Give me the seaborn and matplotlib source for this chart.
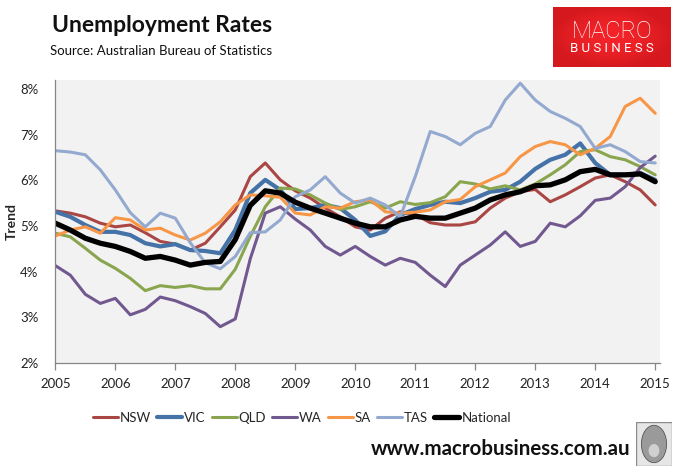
import numpy as np
import pandas as pd
import matplotlib
matplotlib.use("Agg")
import matplotlib.pyplot as plt
import seaborn as sns
from matplotlib.patches import Rectangle, Ellipse
from matplotlib.ticker import FuncFormatter

# quarterly trend readings, Jan 2005 .. Jan 2015 (percent)
quarters = np.arange(2005, 2015.01, 0.25)

nsw = [5.33, 5.28, 5.20, 5.06, 4.98, 5.02, 4.85, 4.66, 4.60, 4.47, 4.62, 4.98, 5.35,
       6.08, 6.38, 6.01, 5.77, 5.61, 5.39, 5.20, 4.98, 4.91, 5.17, 5.31, 5.25, 5.07,
       5.02, 5.02, 5.09, 5.39, 5.61, 5.75, 5.80, 5.53, 5.68, 5.86, 6.05, 6.12, 5.97,
       5.79, 5.46]
vic = [5.31, 5.20, 5.02, 4.87, 4.87, 4.80, 4.62, 4.55, 4.60, 4.47, 4.45, 4.40, 4.91,
       5.72, 6.01, 5.79, 5.37, 5.39, 5.46, 5.39, 5.13, 4.78, 4.88, 5.24, 5.37, 5.46,
       5.53, 5.50, 5.61, 5.75, 5.79, 5.97, 6.25, 6.45, 6.56, 6.81, 6.38, 6.12, 6.12,
       6.16, 6.01]
qld = [4.84, 4.76, 4.51, 4.25, 4.07, 3.85, 3.58, 3.69, 3.65, 3.69, 3.62, 3.62, 4.05,
       4.77, 5.42, 5.83, 5.81, 5.68, 5.50, 5.36, 5.42, 5.53, 5.39, 5.53, 5.47, 5.51,
       5.64, 5.97, 5.92, 5.81, 5.88, 5.79, 5.92, 6.12, 6.34, 6.63, 6.67, 6.52, 6.45,
       6.30, 6.12]
wa = [4.13, 3.92, 3.50, 3.30, 3.41, 3.05, 3.17, 3.44, 3.36, 3.23, 3.08, 2.79, 2.96,
      4.28, 5.28, 5.42, 5.15, 4.91, 4.55, 4.36, 4.55, 4.33, 4.14, 4.29, 4.20, 3.92,
      3.67, 4.14, 4.36, 4.58, 4.87, 4.55, 4.66, 5.06, 4.98, 5.22, 5.56, 5.61, 5.86,
      6.28, 6.53]
sa = [4.78, 4.91, 4.98, 4.84, 5.18, 5.13, 4.91, 4.95, 4.80, 4.69, 4.84, 5.09, 5.46,
      5.68, 5.66, 5.63, 5.28, 5.24, 5.42, 5.39, 5.53, 5.57, 5.31, 5.28, 5.30, 5.35,
      5.53, 5.58, 5.86, 6.01, 6.16, 6.52, 6.74, 6.85, 6.78, 6.56, 6.70, 6.96, 7.62,
      7.80, 7.47]
tas = [6.65, 6.62, 6.56, 6.23, 5.79, 5.29, 4.98, 5.28, 5.17, 4.63, 4.19, 4.06, 4.33,
       4.85, 4.87, 5.13, 5.64, 5.79, 6.08, 5.72, 5.50, 5.61, 5.46, 5.20, 6.08, 7.07,
       6.96, 6.78, 7.03, 7.18, 7.76, 8.13, 7.76, 7.51, 7.36, 7.18, 6.70, 6.78, 6.63,
       6.41, 6.38]
national = [5.06, 4.91, 4.73, 4.62, 4.55, 4.44, 4.29, 4.33, 4.25, 4.14, 4.20, 4.22, 4.70,
            5.45, 5.77, 5.72, 5.52, 5.39, 5.28, 5.17, 5.06, 4.98, 4.98, 5.13, 5.21, 5.17,
            5.17, 5.28, 5.39, 5.57, 5.68, 5.75, 5.88, 5.90, 6.01, 6.19, 6.24, 6.12, 6.12,
            6.14, 5.97]

states = ["NSW", "VIC", "QLD", "WA", "SA", "TAS", "National"]
series = [nsw, vic, qld, wa, sa, tas, national]
colors = {"NSW": "#AA4643", "VIC": "#4572A7", "QLD": "#89A54E", "WA": "#71588F",
          "SA": "#F79646", "TAS": "#93A9CF", "National": "#000000"}
widths = {"NSW": 2.2, "VIC": 3.0, "QLD": 2.2, "WA": 2.2, "SA": 2.2, "TAS": 2.2,
          "National": 3.8}

df = pd.concat([pd.DataFrame({"year": quarters, "rate": v, "state": s})
                for s, v in zip(states, series)], ignore_index=True)

sns.set_theme(style="white")
plt.rcParams["font.family"] = ["Lato", "DejaVu Sans"]

W, H = 684, 469
fig = plt.figure(figsize=(W / 100, H / 100), dpi=100, facecolor="white")
ax = fig.add_axes([55.3 / W, 1 - 362.7 / H, (660 - 55.3) / W, (362.7 - 80) / H])
ax.set_facecolor("#F2F2F2")

for s in states:
    sns.lineplot(data=df[df.state == s], x="year", y="rate", color=colors[s],
                 linewidth=widths[s], label=s, ax=ax, solid_joinstyle="round")

ax.set_xlim(2005, 2015.08)
ax.set_ylim(2, 8.2)
ax.set_xticks(range(2005, 2016))
ax.set_yticks(range(2, 9))
ax.yaxis.set_major_formatter(FuncFormatter(lambda v, p: "%d%%" % v))
for side in ["top", "right"]:
    ax.spines[side].set_visible(False)
for side in ["left", "bottom"]:
    ax.spines[side].set_color("#868686")
    ax.spines[side].set_linewidth(0.9)
ax.tick_params(axis="y", length=0, pad=12, labelsize=9.5, labelcolor="#222222")
ax.tick_params(axis="x", length=5, width=0.9, color="#868686", direction="out",
               pad=6, labelsize=9.5, labelcolor="#222222", bottom=True)
ax.set_xlabel("")
ax.set_ylabel("Trend", fontsize=10, weight="bold")
ax.yaxis.set_label_coords((18 - 55.3) / (660 - 55.3), 0.5)

handles, labels = ax.get_legend_handles_labels()
ax.legend(handles, labels, loc="center", bbox_to_anchor=(302 / W, 1 - 418 / H),
          bbox_transform=fig.transFigure, ncol=7, frameon=False, fontsize=9.5,
          handlelength=1.9, handletextpad=0.15, columnspacing=0.45)

fig.text(52 / W, 1 - 31.7 / H, "Unemployment Rates", fontsize=16.5, weight="bold",
         va="baseline", color="#111111")
fig.text(50 / W, 1 - 55 / H, "Source: Australian Bureau of Statistics", fontsize=9.5,
         va="baseline", color="#111111")

# logo box
logo = fig.add_axes([553 / W, 1 - 67 / H, 118 / W, 60 / H])
gx, gy = np.meshgrid(np.linspace(-1, 1, 60), np.linspace(-1, 1, 30))
shade = 1 - 0.35 * np.clip(gx ** 2 + gy ** 2, 0, 1)
rgb = np.dstack([0.62 + 0.33 * shade, 0.02 + 0.12 * shade, 0.04 + 0.12 * shade])
logo.imshow(rgb, aspect="auto", extent=(0, 1, 0, 1))
logo.set_axis_off()
logo.text(0.5, 0.6, "MACRO", color="white", fontsize=17, ha="center", va="center",
          family=["Roboto", "DejaVu Sans"], weight="light")
logo.text(0.5, 0.3, "B U S I N E S S", color="white", fontsize=9.5, ha="center",
          va="center", family=["Roboto", "DejaVu Sans"])

fig.text(630 / W, 1 - 449 / H, "www.macrobusiness.com.au", fontsize=14.8, weight="bold",
         ha="right", va="center", color="#111111")

# small wolf badge
badge = fig.add_axes([636 / W, 1 - 466 / H, 36 / W, 44 / H])
badge.set_xlim(0, 1)
badge.set_ylim(0, 1)
badge.add_patch(Rectangle((0, 0), 1, 1, facecolor="#E6E6E6", edgecolor="#8C8C8C", lw=1))
badge.add_patch(Ellipse((0.5, 0.5), 0.7, 0.85, facecolor="#9A9A9A", edgecolor="#555555", lw=0.6))
badge.add_patch(Ellipse((0.5, 0.35), 0.3, 0.3, facecolor="#D0D0D0", edgecolor="none"))
badge.set_axis_off()

fig.savefig("out.png", dpi=100, facecolor="white")
